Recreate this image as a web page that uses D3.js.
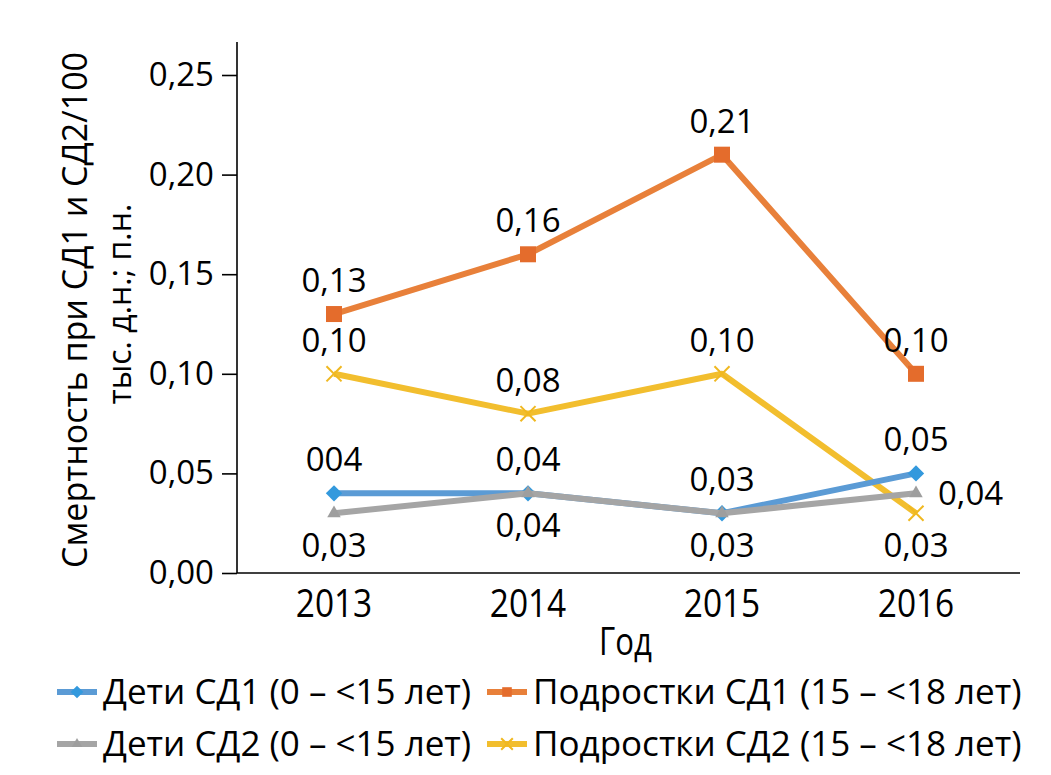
<!DOCTYPE html>
<html>
<head>
<meta charset="utf-8">
<script src="https://cdn.jsdelivr.net/npm/d3@7"></script>
<style>
  body { margin: 0; background: #fff; }
  text { font-family: "Open Sans", "Noto Sans", sans-serif; fill: #000; }
</style>
</head>
<body>
<div id="chart"></div>
<script>
// Chart data
const years = ['2013', '2014', '2015', '2016'];
const yTicks = [0, 0.05, 0.10, 0.15, 0.20, 0.25];

const kidsT1 = [0.04, 0.04, 0.03, 0.05];
const teensT1 = [0.13, 0.16, 0.21, 0.10];
const kidsT2 = [0.03, 0.04, 0.03, 0.04];
const teensT2 = [0.10, 0.08, 0.10, 0.03];

// labels as printed (first one has a typo in the source)
const kidsT1Labels = ['004', '0,04', '0,03', '0,05'];
const teensT1Labels = ['0,13', '0,16', '0,21', '0,10'];
const kidsT2Labels = ['0,03', '0,04', '0,03', '0,04'];
const teensT2Labels = ['0,10', '0,08', '0,10', '0,03'];

// where each label sits relative to its point
const kidsT1Place = ['above', 'above', 'above', 'above'];
const teensT1Place = ['above', 'above', 'above', 'above'];
const kidsT2Place = ['below', 'below', 'below', 'right'];
const teensT2Place = ['above', 'above', 'above', 'below'];

const series = [
  { name: 'Дети СД1 (0 – <15 лет)', values: kidsT1, labels: kidsT1Labels, place: kidsT1Place, color: '#5B9BD5', mark: '#3399DD', symbol: 'diamond' },
  { name: 'Подростки СД1 (15 – <18 лет)', values: teensT1, labels: teensT1Labels, place: teensT1Place, color: '#E8803A', mark: '#E46C2C', symbol: 'square' },
  { name: 'Дети СД2 (0 – <15 лет)', values: kidsT2, labels: kidsT2Labels, place: kidsT2Place, color: '#A5A5A5', mark: '#9E9E9E', symbol: 'triangle' },
  { name: 'Подростки СД2 (15 – <18 лет)', values: teensT2, labels: teensT2Labels, place: teensT2Place, color: '#F2BE2E', mark: '#F0B820', symbol: 'cross' }
];

const width = 1051, height = 775;
const plot = { left: 237, right: 1020, top: 42, bottom: 573 };

const svg = d3.select('#chart')
  .append('svg')
  .attr('width', width)
  .attr('height', height);

const x = d3.scalePoint()
  .domain(years)
  .range([plot.left, plot.left + 4 * 194])
  .padding(0.5);

const y = d3.scaleLinear()
  .domain([0, 0.25])
  .range([plot.bottom, 75]);

const fmt = v => d3.format('.2f')(v).replace('.', ',');

// y axis
const yAxis = svg.append('g')
  .attr('transform', `translate(${plot.left},0)`)
  .call(d3.axisLeft(y).tickValues(yTicks).tickSize(15).tickPadding(8).tickFormat(fmt));
yAxis.select('.domain').remove();
yAxis.selectAll('.tick line').attr('stroke', '#000').attr('stroke-width', 1.6);
yAxis.selectAll('.tick text')
  .attr('font-size', 33)
  .attr('font-family', '"Open Sans", sans-serif')
  .attr('fill', '#000');
svg.append('line')
  .attr('x1', plot.left).attr('x2', plot.left)
  .attr('y1', plot.top).attr('y2', plot.bottom)
  .attr('stroke', '#000').attr('stroke-width', 1.6);

// x axis line
svg.append('line')
  .attr('x1', plot.left).attr('x2', plot.right)
  .attr('y1', plot.bottom).attr('y2', plot.bottom)
  .attr('stroke', '#000').attr('stroke-width', 1.6);

// condensed year labels
svg.append('g').selectAll('text')
  .data(years)
  .join('text')
  .attr('transform', d => `translate(${x(d)},617) scale(0.88,1)`)
  .attr('text-anchor', 'middle')
  .attr('font-size', 38)
  .text(d => d);

svg.append('text')
  .attr('transform', `translate(${(plot.left + plot.right) / 2 - 3},655) scale(0.82,1)`)
  .attr('text-anchor', 'middle')
  .attr('font-size', 38)
  .text('Год');

// y title, two lines
svg.append('text')
  .attr('transform', 'translate(87,310) rotate(-90)')
  .attr('text-anchor', 'middle')
  .attr('font-size', 34)
  .text('Смертность при СД1 и СД2/100');
svg.append('text')
  .attr('transform', 'translate(131,304) rotate(-90)')
  .attr('text-anchor', 'middle')
  .attr('font-size', 32)
  .text('тыс. д.н.; п.н.');

// marker drawing
function drawMarker(g, s, cx, cy, scale) {
  const k = scale || 1;
  if (s.symbol === 'diamond') {
    g.append('path')
      .attr('d', d3.symbol(d3.symbolDiamond2, 170 * k)())
      .attr('transform', `translate(${cx},${cy})`)
      .attr('fill', s.mark);
  } else if (s.symbol === 'square') {
    g.append('rect')
      .attr('x', cx - 8 * k).attr('y', cy - 8 * k)
      .attr('width', 16 * k).attr('height', 16 * k)
      .attr('fill', s.mark);
  } else if (s.symbol === 'triangle') {
    g.append('path')
      .attr('d', d3.symbol(d3.symbolTriangle2, 130 * k)())
      .attr('transform', `translate(${cx},${cy})`)
      .attr('fill', s.mark);
  } else {
    g.append('path')
      .attr('d', d3.symbol(d3.symbolTimes, 150 * k)())
      .attr('transform', `translate(${cx},${cy})`)
      .attr('fill', 'none')
      .attr('stroke', s.mark)
      .attr('stroke-width', 2);
  }
}

const line = d3.line()
  .x((d, i) => x(years[i]))
  .y(d => y(d));

// draw order: yellow, orange, gray, blue
const order = [3, 1, 0, 2];
order.forEach(idx => {
  const s = series[idx];
  const g = svg.append('g');
  g.append('path')
    .datum(s.values)
    .attr('d', line)
    .attr('fill', 'none')
    .attr('stroke', s.color)
    .attr('stroke-width', 6)
    .attr('stroke-linejoin', 'round');
  s.values.forEach((v, i) => drawMarker(g, s, x(years[i]), y(v)));
});

// data labels
series.forEach(s => {
  svg.append('g').selectAll('text')
    .data(s.values)
    .join('text')
    .attr('x', (d, i) => x(years[i]) + (s.place[i] === 'right' ? 22 : 0))
    .attr('y', (d, i) => {
      const p = s.place[i];
      if (p === 'above') return y(d) - 22;
      if (p === 'below') return y(d) + 44;
      return y(d) + 12;
    })
    .attr('text-anchor', (d, i) => s.place[i] === 'right' ? 'start' : 'middle')
    .attr('font-size', 33)
    .text((d, i) => s.labels[i]);
});

// legend
const legendPos = [
  { lx: 57, ly: 692 }, { lx: 487, ly: 692 },
  { lx: 57, ly: 744 }, { lx: 487, ly: 744 }
];
series.forEach((s, i) => {
  const p = legendPos[i];
  const g = svg.append('g');
  g.append('line')
    .attr('x1', p.lx).attr('x2', p.lx + 40)
    .attr('y1', p.ly).attr('y2', p.ly)
    .attr('stroke', s.color).attr('stroke-width', 6);
  drawMarker(g, s, p.lx + 20, p.ly, 0.6);
  g.append('text')
    .attr('x', p.lx + 46)
    .attr('y', p.ly + 12)
    .attr('font-size', 35)
    .text(s.name);
});
</script>
</body>
</html>
